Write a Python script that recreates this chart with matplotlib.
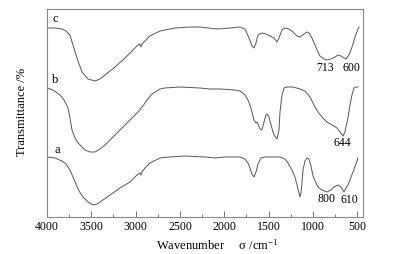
import matplotlib
matplotlib.use("Agg")
import matplotlib.pyplot as plt
from matplotlib.ticker import MultipleLocator

plt.rcParams['font.family'] = ['Liberation Serif', 'DejaVu Serif']
plt.rcParams['mathtext.fontset'] = 'custom'
plt.rcParams['mathtext.rm'] = 'Liberation Serif'
plt.rcParams['mathtext.it'] = 'Liberation Serif:italic'

# curve c (top)
wn_c = [4000, 3910, 3831, 3786, 3741, 3707, 3662, 3605, 3538, 3459, 3402, 3346, 3233, 3120,
        3030, 2974, 2951, 2940, 2928, 2917, 2838, 2725, 2556, 2387, 2274, 2082, 1936, 1823,
        1767, 1721, 1688, 1665, 1642, 1620, 1575, 1530, 1485, 1440, 1406, 1383, 1349, 1315,
        1270, 1225, 1180, 1146, 1101, 1067, 1045, 1011, 977, 943, 921, 875, 842, 797, 751,
        718, 684, 650, 627, 594, 571, 548, 526, 492, 480]
t_c = [189, 189, 188, 186, 182, 172, 159, 145, 138, 136, 138, 142, 150, 159,
       167, 172, 173, 170, 173, 174, 181, 186, 189, 190, 190, 188, 189, 190,
       188, 179, 171, 169, 174, 182, 184, 183, 181, 179, 175, 179, 187, 189,
       188, 185, 181, 180, 183, 185, 184, 179, 172, 165, 161, 158, 157, 158, 160,
       162, 161, 159, 158, 162, 167, 173, 180, 188, 190]

# curve b (middle)
wn_b = [4000, 3932, 3853, 3808, 3763, 3741, 3718, 3684, 3650, 3571, 3515, 3459, 3402, 3346,
        3233, 3120, 3007, 2951, 2940, 2917, 2872, 2827, 2782, 2725, 2669, 2500, 2274, 2161,
        2049, 1879, 1823, 1767, 1733, 1710, 1688, 1665, 1642, 1631, 1620, 1597, 1575, 1552,
        1530, 1518, 1496, 1473, 1439, 1406, 1383, 1372, 1349, 1326, 1293, 1225, 1146, 1090,
        1033, 988, 943, 887, 842, 785, 729, 684, 661, 639, 605, 582, 560, 537, 515, 492]
t_b = [129, 127, 122, 117, 109, 99, 87, 79, 74, 67, 65, 65, 68, 72,
       82, 92, 102, 107, 109, 111, 117, 122, 125, 128, 129, 130, 129, 128,
       128, 127, 126, 122, 117, 112, 105, 97, 94, 95, 93, 88, 87, 95,
       102, 103, 100, 92, 82, 78, 87, 105, 122, 129, 130, 130, 128, 126,
       120, 112, 105, 99, 95, 92, 89, 84, 81, 85, 99, 112, 122, 129, 130, 130]

# curve a (bottom)
wn_a = [4000, 3910, 3831, 3786, 3741, 3707, 3673, 3639, 3594, 3538, 3481, 3436, 3402, 3289,
        3177, 3064, 2985, 2951, 2940, 2928, 2895, 2838, 2725, 2613, 2443, 2218, 2105, 1992,
        1823, 1767, 1733, 1710, 1688, 1665, 1642, 1620, 1586, 1541, 1372, 1315, 1282, 1236,
        1203, 1180, 1157, 1146, 1135, 1123, 1112, 1090, 1067, 1045, 1022, 999, 966, 943,
        898, 842, 797, 763, 718, 684, 650, 627, 605, 582, 548, 515, 492]
t_a = [60, 59, 56, 53, 47, 40, 33, 26, 20, 15, 12, 13, 15, 22,
       29, 35, 42, 44, 42, 45, 49, 54, 59, 60, 61, 60, 59, 60,
       60, 58, 54, 49, 43, 40, 45, 53, 59, 60, 60, 58, 54, 47,
       40, 32, 24, 20, 24, 35, 47, 56, 59, 58, 51, 41, 34, 30,
       27, 25, 27, 30, 32, 30, 25, 29, 32, 37, 45, 53, 59]

curve_names = ['c', 'b', 'a']
name_pos = [(3910, 198), (3910, 137), (3887, 67)]
peak_labels = ['713', '600', '644', '800', '610']
peak_pos = [(864, 149), (560, 149), (672, 74), (842, 18), (594, 17)]

fig = plt.figure(figsize=(3.93, 2.54), dpi=100)
ax = fig.add_axes([0.1196, 0.1457, 0.8041, 0.8189])

line_col = '#555555'
for wn, t in [(wn_c, t_c), (wn_b, t_b), (wn_a, t_a)]:
    ax.plot(wn, t, color=line_col, lw=0.7)

for name, (x, y) in zip(curve_names, name_pos):
    ax.text(x, y, name, fontsize=9, ha='center', va='center')
for lab, (x, y) in zip(peak_labels, peak_pos):
    ax.text(x, y, lab, fontsize=8.5, ha='center', va='center')

ax.set_xlim(4000, 435)
ax.set_ylim(0, 208)
ax.xaxis.set_major_locator(MultipleLocator(500))
ax.xaxis.set_minor_locator(MultipleLocator(250))
ax.tick_params(axis='x', which='major', direction='in', length=4, width=0.7,
               colors='#777777', labelcolor='black', labelsize=8.5, pad=3)
ax.tick_params(axis='x', which='minor', direction='in', length=2.5, width=0.7, colors='#777777')
ax.set_yticks([])
for sp in ax.spines.values():
    sp.set_color('#888888')
    sp.set_linewidth(0.8)

fig.text(0.055, 0.56, 'Transmittance /%', rotation=90, fontsize=9, ha='center', va='center')
fig.text(0.552, 0.035, r'Wavenumber     σ /cm$^{-1}$', fontsize=9, ha='center', va='center')

fig.savefig('out.png', dpi=100)
